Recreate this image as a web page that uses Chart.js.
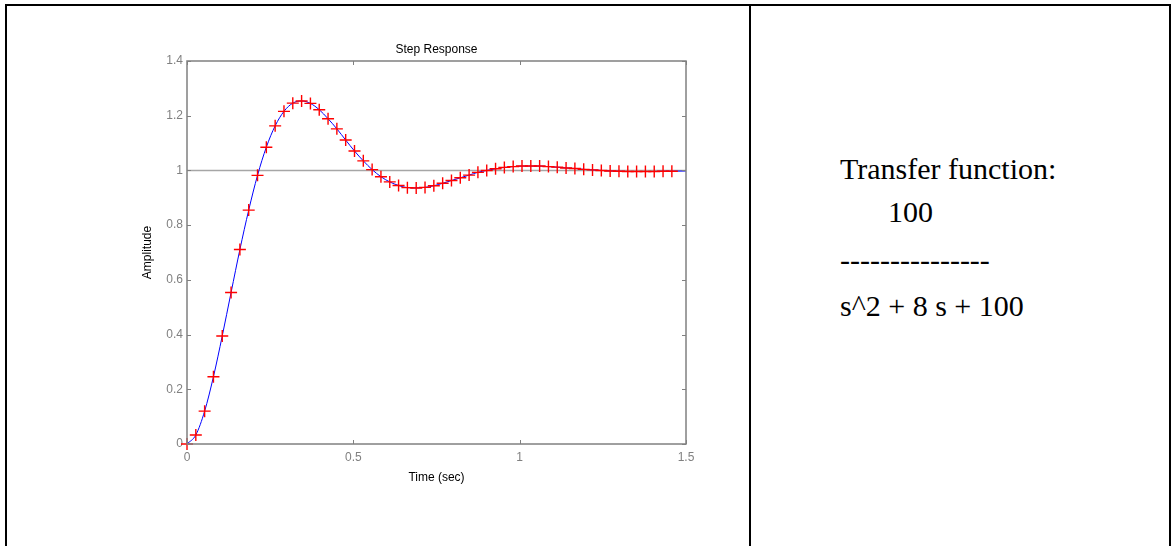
<!DOCTYPE html>
<html>
<head>
<meta charset="utf-8">
<script src="https://cdn.jsdelivr.net/npm/chart.js@4.4.1/dist/chart.umd.min.js"></script>
<style>
  html, body { margin: 0; padding: 0; background: #fff; }
  #wrap { position: relative; width: 1173px; height: 546px; overflow: hidden; }
  #step { position: absolute; left: 0; top: 0; }
  .rule { position: absolute; background: #000; z-index: 2; }
  .tf {
    position: absolute;
    font-family: "Liberation Serif", "Times New Roman", serif;
    font-size: 30px;
    line-height: 30px;
    color: #000;
    white-space: pre;
  }
</style>
</head>
<body>
<div id="wrap">
  <canvas id="step" width="750" height="546"></canvas>
  <!-- table borders -->
  <div class="rule" style="left:5px; top:4px; width:1166px; height:2px;"></div>
  <div class="rule" style="left:5px; top:4px; width:2px; height:542px;"></div>
  <div class="rule" style="left:749px; top:4px; width:2px; height:542px;"></div>
  <div class="rule" style="left:1169px; top:4px; width:2px; height:542px;"></div>
  <!-- right cell -->
  <div class="tf" style="left:840px; top:154px;">Transfer function:</div>
  <div class="tf" style="left:888px; top:197px;">100</div>
  <div class="tf" style="left:840px; top:245px;">---------------</div>
  <div class="tf" style="left:840px; top:291px;">s^2 + 8 s + 100</div>
</div>
<script>
// Step response samples (red + markers)
const markerTime = [0, 0.0265, 0.053, 0.0795, 0.106, 0.1325, 0.159, 0.1855, 0.212, 0.2385,
  0.265, 0.2915, 0.318, 0.3445, 0.371, 0.3975, 0.424, 0.4505, 0.477, 0.5035,
  0.53, 0.5565, 0.583, 0.6095, 0.636, 0.6625, 0.689, 0.7155, 0.742, 0.7685,
  0.795, 0.8215, 0.848, 0.8745, 0.901, 0.9275, 0.954, 0.9805, 1.007, 1.0335,
  1.06, 1.0865, 1.113, 1.1395, 1.166, 1.1925, 1.219, 1.2455, 1.272, 1.2985,
  1.325, 1.3515, 1.378, 1.4045, 1.431, 1.4575];
const markerAmp = [0, 0.033, 0.120, 0.246, 0.395, 0.554, 0.711, 0.855, 0.982, 1.085,
  1.163, 1.216, 1.246, 1.254, 1.245, 1.222, 1.189, 1.152, 1.111, 1.071,
  1.035, 1.003, 0.977, 0.958, 0.945, 0.937, 0.936, 0.938, 0.944, 0.953,
  0.963, 0.973, 0.983, 0.993, 1.000, 1.006, 1.011, 1.014, 1.016, 1.016,
  1.016, 1.014, 1.012, 1.009, 1.007, 1.004, 1.002, 1.000, 0.998, 0.997,
  0.996, 0.996, 0.996, 0.996, 0.997, 0.997];

// blue curve runs on to the right edge
const curveTime = markerTime.concat([1.5]);
const curveAmp = markerAmp.concat([0.998]);

// steady state line
const steadyTime = [0, 1.5];
const steadyAmp = [1, 1];

const xTicks = [0, 0.5, 1, 1.5];
const xTickLabels = ["0", "0.5", "1", "1.5"];
const yTicks = [0, 0.2, 0.4, 0.6, 0.8, 1, 1.2, 1.4];
const yTickLabels = ["0", "0.2", "0.4", "0.6", "0.8", "1", "1.2", "1.4"];

const toPoints = (xs, ys) => xs.map((x, i) => ({ x: x, y: ys[i] }));

Chart.defaults.font.family = 'Arial, "Liberation Sans", sans-serif';
Chart.defaults.font.size = 12;

// Matlab style axes box with inward tick marks
const axesBox = {
  id: "axesBox",
  afterDatasetsDraw(chart) {
    const ctx = chart.ctx;
    const a = chart.chartArea;
    const xs = chart.scales.x;
    const ys = chart.scales.y;
    ctx.save();
    ctx.strokeStyle = "#808080";
    ctx.lineWidth = 1;
    ctx.beginPath();
    xTicks.forEach((v) => {
      const px = Math.round(xs.getPixelForValue(v)) + 0.5;
      ctx.moveTo(px, a.bottom);
      ctx.lineTo(px, a.bottom - 4);
      ctx.moveTo(px, a.top);
      ctx.lineTo(px, a.top + 4);
    });
    yTicks.forEach((v) => {
      const py = Math.round(ys.getPixelForValue(v)) + 0.5;
      ctx.moveTo(a.left, py);
      ctx.lineTo(a.left + 4, py);
      ctx.moveTo(a.right, py);
      ctx.lineTo(a.right - 4, py);
    });
    ctx.stroke();
    ctx.lineWidth = 1.5;
    ctx.strokeRect(a.left, a.top, a.right - a.left, a.bottom - a.top);
    ctx.restore();
  },
};

const ctx = document.getElementById("step");
const stepChart = new Chart(ctx, {
  type: "line",
  data: {
    datasets: [
      {
        label: "samples",
        data: toPoints(markerTime, markerAmp),
        showLine: false,
        pointStyle: "cross",
        pointRadius: 6,
        pointBorderWidth: 1.4,
        pointBorderColor: "#ff0000",
        pointBackgroundColor: "#ff0000",
        clip: false,
        order: 0,
      },
      {
        label: "response",
        data: toPoints(curveTime, curveAmp),
        borderColor: "#0000ff",
        borderWidth: 1,
        pointRadius: 0,
        cubicInterpolationMode: "monotone",
        order: 1,
      },
      {
        label: "steady",
        data: toPoints(steadyTime, steadyAmp),
        borderColor: "#a6a6a6",
        borderWidth: 1.5,
        pointRadius: 0,
        order: 2,
      },
    ],
  },
  options: {
    responsive: false,
    animation: false,
    events: [],
    layout: {
      padding: { left: 140.3, right: 64, top: 40.8, bottom: 60.8 },
    },
    plugins: {
      legend: { display: false },
      tooltip: { enabled: false },
      title: {
        display: true,
        text: "Step Response",
        color: "#000",
        fullSize: false,
        font: { size: 12, weight: "normal" },
        padding: { top: 1.5, bottom: 4.3 },
      },
    },
    scales: {
      x: {
        type: "linear",
        min: 0,
        max: 1.5,
        grid: { display: false, drawTicks: false },
        border: { display: false },
        afterBuildTicks: (s) => {
          s.ticks = xTicks.map((v) => ({ value: v }));
        },
        afterFit: (s) => {
          s.height = 41.2;
        },
        ticks: {
          color: "#808080",
          padding: 6,
          maxRotation: 0,
          callback: (value, index) => xTickLabels[index],
        },
        title: {
          display: true,
          text: "Time (sec)",
          color: "#000",
          padding: 0,
        },
      },
      y: {
        type: "linear",
        min: 0,
        max: 1.4,
        grid: { display: false, drawTicks: false },
        border: { display: false },
        afterBuildTicks: (s) => {
          s.ticks = yTicks.map((v) => ({ value: v }));
        },
        afterFit: (s) => {
          s.width = 46.7;
        },
        ticks: {
          color: "#808080",
          padding: 4,
          callback: (value, index) => yTickLabels[index],
        },
        title: {
          display: true,
          text: "Amplitude",
          color: "#000",
          padding: 0,
        },
      },
    },
  },
  plugins: [axesBox],
});
</script>
</body>
</html>
